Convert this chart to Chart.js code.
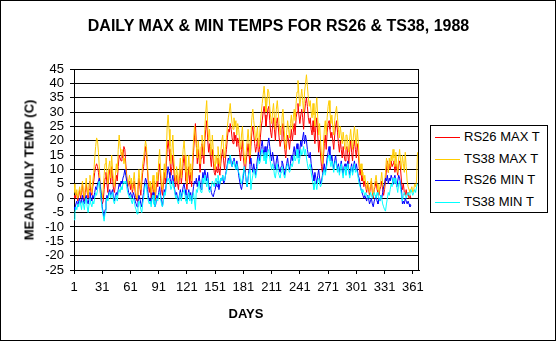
<!DOCTYPE html>
<html>
<head>
<meta charset="utf-8">
<script src="https://cdn.jsdelivr.net/npm/chart.js@4.4.1/dist/chart.umd.min.js"></script>
<style>
  html, body { margin: 0; padding: 0; background: #fff; }
  #wrap { position: relative; width: 557px; height: 343px; font-family: "Liberation Sans", Arial, sans-serif; color: #000; }
  #frame { position: absolute; left: 0; top: 0; width: 556px; height: 341px; border: 1px solid #000; box-sizing: border-box; pointer-events: none; }
  canvas { position: absolute; left: 0; top: 0; }
  .title { position: absolute; left: 0; width: 557px; top: 17px; text-align: center; font-weight: bold; font-size: 16px; }
  .xtitle { position: absolute; left: 196px; width: 100px; top: 306px; text-align: center; font-weight: bold; font-size: 13px; }
  .ytitle { position: absolute; left: 29px; top: 170px; transform: translate(-50%, -50%) rotate(-90deg); white-space: nowrap; font-weight: bold; font-size: 13px; }
  #legend { position: absolute; left: 430px; top: 125px; width: 118px; height: 88px; border: 1px solid #000; box-sizing: border-box; background: #fff; }
  .item { position: absolute; left: 4px; height: 16px; font-size: 13px; line-height: 16px; white-space: nowrap; }
  .item svg { position: absolute; left: 0; top: 0; }
  .item span { position: absolute; left: 29px; top: 0; }
</style>
</head>
<body>
<div id="wrap">
  <canvas id="chart" width="557" height="343"></canvas>
  <div class="title">DAILY MAX &amp; MIN TEMPS FOR RS26 &amp; TS38, 1988</div>
  <div class="ytitle">MEAN DAILY TEMP (C)</div>
  <div class="xtitle">DAYS</div>
  <div id="legend"></div>
  <div id="frame"></div>
</div>
<script>
// day-of-year categories (1988 is a leap year)
const days = Array.from({ length: 366 }, (_, i) => i + 1);
const xTicks = [1, 31, 61, 91, 121, 151, 181, 211, 241, 271, 301, 331, 361];

const seriesNames = ["RS26 MAX T", "TS38 MAX T", "RS26 MIN T", "TS38 MIN T"];
const seriesColors = ["#ff0000", "#ffcc00", "#0000ff", "#00ffff"];

// RS26 record stops a few days before year end
const rs26Max = [
  1, 0, 2, 1, -1, 1, 3, 0, 2, 5,
  1, -1, 2, 5, 2, 0, 3, 6, 2, 1,
  4, 6, 9, 11, 12, 11, 9, 6, 2, -1,
  -2, -1, 3, 7, 9, 5, 2, 8, 10, 5,
  11, 7, 3, 2, 5, 8, 6, 11, 15, 14,
  13, 16, 14, 18, 17, 12, 8, 4, 5, 6,
  3, 5, 2, 4, 6, 2, 0, -1, 3, 7,
  4, 1, 5, 9, 11, 14, 18, 16, 10, 5,
  2, 4, 0, 3, 6, 1, -1, 2, 6, 4,
  9, 12, 7, 3, 1, 5, 9, 5, 11, 17,
  20, 17, 13, 8, 11, 15, 10, 6, 4, 8,
  5, 3, 7, 10, 5, 8, 12, 15, 11, 6,
  3, 7, 11, 5, 9, 4, 10, 16, 21, 26,
  19, 12, 17, 13, 9, 14, 19, 16, 12, 20,
  24, 27, 21, 16, 19, 14, 11, 17, 13, 9,
  8, 11, 9, 14, 10, 8, 12, 15, 17, 13,
  10, 14, 17, 21, 24, 23, 26, 24, 21, 19,
  23, 20, 22, 18, 21, 19, 16, 13, 17, 20,
  14, 11, 9, 13, 16, 19, 15, 12, 18, 23,
  25, 22, 19, 16, 18, 21, 15, 17, 21, 25,
  27, 30, 32, 29, 25, 28, 31, 32, 27, 23,
  21, 25, 28, 24, 20, 26, 28, 25, 21, 18,
  20, 24, 26, 21, 17, 14, 19, 22, 20, 17,
  21, 24, 20, 23, 26, 22, 28, 30, 33, 29,
  26, 29, 31, 28, 24, 30, 33, 35, 32, 28,
  26, 28, 24, 22, 27, 23, 19, 25, 28, 22,
  16, 20, 15, 11, 9, 14, 19, 22, 17, 23,
  26, 27, 24, 21, 23, 20, 17, 22, 25, 27,
  23, 19, 16, 20, 17, 14, 18, 15, 13, 17,
  18, 15, 12, 17, 20, 16, 13, 18, 20, 17,
  14, 19, 16, 11, 8, 10, 6, 7, 4, 6,
  4, 2, 5, 3, 1, 4, 6, 2, 0, 3,
  4, 6, 3, 2, 1, 3, 4, 6, 3, 1,
  3, 6, 10, 13, 9, 12, 10, 13, 11, 12,
  13, 9, 12, 10, 8, 12, 13, 10, 6, 3,
  5, 2, 1, 3, 1, 2, 0, 1, 0
];

const ts38Max = [
  5, 2, 1, 3, 0, 2, 4, 1, 3, 6,
  2, 0, 4, 7, 3, 1, 5, 8, 4, 2,
  6, 9, 14, 18, 21, 20, 16, 10, 5, 2,
  0, 3, 8, 12, 14, 9, 5, 11, 13, 7,
  15, 10, 6, 4, 8, 12, 9, 17, 22, 18,
  15, 17, 16, 12, 14, 10, 7, 4, 6, 8,
  5, 7, 3, 6, 9, 4, 1, 0, 5, 10,
  6, 3, 8, 12, 14, 17, 20, 18, 12, 7,
  4, 6, 2, 5, 8, 3, 0, 4, 9, 6,
  13, 17, 10, 5, 3, 8, 12, 7, 15, 25,
  29, 24, 18, 12, 16, 22, 14, 9, 6, 11,
  8, 5, 10, 14, 7, 12, 17, 20, 15, 9,
  5, 10, 15, 8, 12, 6, 14, 20, 25, 22,
  18, 14, 20, 16, 12, 18, 22, 19, 15, 24,
  30, 34, 26, 20, 24, 18, 15, 22, 17, 12,
  10, 15, 12, 18, 14, 11, 16, 20, 22, 17,
  14, 18, 21, 25, 28, 30, 33, 29, 26, 24,
  28, 25, 27, 22, 26, 24, 20, 17, 22, 25,
  18, 14, 12, 16, 20, 24, 19, 15, 22, 28,
  31, 27, 24, 20, 22, 25, 18, 21, 26, 30,
  33, 36, 39, 35, 30, 33, 38, 37, 32, 28,
  26, 30, 33, 28, 24, 31, 34, 30, 26, 22,
  25, 28, 31, 26, 20, 17, 23, 27, 24, 21,
  26, 29, 24, 28, 31, 27, 33, 37, 41, 36,
  32, 35, 38, 34, 30, 37, 40, 43, 39, 35,
  32, 34, 30, 28, 33, 29, 25, 31, 35, 28,
  22, 26, 20, 15, 12, 18, 24, 27, 22, 28,
  32, 34, 30, 26, 29, 25, 22, 27, 30, 32,
  28, 24, 21, 25, 22, 19, 23, 20, 17, 22,
  22, 19, 16, 21, 24, 20, 17, 22, 25, 21,
  18, 24, 20, 14, 10, 12, 8, 9, 6, 8,
  5, 3, 6, 4, 2, 5, 7, 3, 1, 4,
  6, 8, 5, 3, 2, 4, 6, 9, 5, 3,
  5, 9, 14, 12, 9, 14, 11, 15, 13, 17,
  14, 11, 16, 12, 9, 14, 17, 13, 10, 15,
  12, 9, 16, 11, 6, 4, 3, 2, 3, 4,
  2, 3, 5, 4, 6, 16
];

const rs26Min = [
  -3, -4, -2, -1, -3, -1, 0, -2, -1, 1,
  -1, -2, 0, 1, -1, -2, 0, 2, 0, -1,
  1, 0, 2, 4, 3, 5, 6, 7, 4, 1,
  -3, -5, -7, -4, -1, 1, 0, 2, 3, 1,
  2, 3, 0, -1, 1, 2, 1, 3, 5, 4,
  6, 5, 7, 8, 10, 8, 6, 4, 2, 1,
  2, 1, 0, 2, 1, -1, -2, -3, -1, 1,
  0, -2, -3, 0, 2, 5, 7, 6, 3, 1,
  -1, 0, -2, 1, 2, -1, -3, -2, 1, 0,
  2, 4, 1, -1, -3, 0, 3, 2, 5, 8,
  11, 9, 7, 5, 6, 8, 5, 3, 1, 2,
  0, -1, 1, 3, 0, 2, 4, 5, 3, 1,
  -1, 1, 3, 0, 2, -1, 1, 4, 6, 5,
  7, 4, 6, 8, 5, 3, 6, 9, 7, 10,
  8, 6, 9, 5, 3, 4, 2, 1, 0.5, 2,
  3, 5, 4, 6, 3, 5, 7, 6, 8, 5,
  6, 8, 10, 12, 14, 13, 15, 12, 11, 13,
  14, 12, 10, 13, 11, 8, 6, 4, 3, 5,
  8, 11, 9, 6, 4, 7, 10, 12, 14, 11,
  9, 12, 10, 8, 11, 14, 16, 13, 15, 18,
  20, 17, 15, 18, 14, 16, 19, 21, 18, 15,
  13, 16, 14, 11, 10, 13, 15, 12, 10, 9,
  11, 13, 12, 10, 8, 10, 12, 14, 11, 10,
  12, 15, 13, 16, 18, 15, 17, 19, 16, 14,
  17, 20, 18, 21, 23, 19, 22, 20, 17, 15,
  14, 16, 12, 10, 8, 6, 9, 7, 5, 8,
  10, 7, 5, 6, 8, 10, 12, 9, 11, 14,
  16, 18, 15, 13, 15, 12, 10, 13, 15, 12,
  10, 12, 9, 11, 13, 10, 8, 11, 12, 9,
  11, 13, 10, 8, 10, 12, 9, 11, 13, 10,
  12, 10, 8, 7, 5, 3, 2, 1, 0, 1,
  0, -1, 1, 0, -2, -1, 0, -2, -3, -1,
  0, 1, -1, -2, 0, -1, 1, 0, 2, 4,
  5, 7, 6, 8, 5, 7, 6, 8, 7, 5,
  7, 8, 6, 4, 6, 8, 7, 5, 3, -2,
  -1, -2, 0, -1, -2, -1, -2, -3, -2.5
];

const ts38Min = [
  -7.5, -5, -3, -4, -2, -3, -1, -2, -4, -1,
  -2, -4, -1, 0, -3, -5, -2, 0, -2, -3,
  -1, -2, 0, 2, 1, 3, 5, 6, 2, -1,
  -4, -6, -8, -5, -2, 0, -1, 1, 2, 0,
  1, 2, -1, -2, 0, 1, -1, 2, 3, 2,
  4, 3, 5, 6, 5, 6, 4, 2, 1, 0,
  1, -1, -2, 0, -1, -3, -4, -5.5, -3, -1,
  -2, -4, -5, -2, 0, 3, 5, 4, 1, -1,
  -2, -1, -3, 0, 1, -2, -3, -1, 0, -1,
  1, 2, 0, -2, -3, -1, 2, 1, 4, 6,
  7, 6, 5, 3, 4, 6, 4, 2, 0, 1,
  -1, -2, 0, 2, -1, 1, 2, 3, 1, -1,
  -2, 0, 2, -1, 1, -2, 0, 2, -1, -4,
  3, 2, 4, 6, 3, 2, 5, 7, 5, 8,
  6, 4, 7, 3, 2, 3, 4, 6, 5, 4,
  6, 7, 5, 8, 6, 5, 7, 6, 8, 7,
  6, 8, 9, 11, 13, 12, 15, 13, 11, 12,
  13, 11, 10, 12, 10, 9, 8, 6, 5, 7,
  9, 11, 8, 6, 4, 7, 9, 10, 3, 6,
  8, 10, 9, 7, 9, 11, 14, 12, 13, 16,
  17, 15, 13, 16, 12, 14, 16, 17, 14, 12,
  10, 12, 11, 8, 7, 10, 12, 9, 8, 7,
  9, 11, 10, 8, 7, 9, 11, 12, 10, 9,
  10, 12, 11, 13, 15, 13, 14, 17, 14, 12,
  14, 17, 15, 16, 18, 15, 17, 14, 12, 10,
  11, 12, 9, 7, 5, 3, 6, 5, 3, 6,
  7, 5, 4, 5, 7, 9, 10, 8, 10, 12,
  14, 15, 13, 11, 13, 11, 9, 12, 13, 11,
  9, 11, 8, 10, 12, 9, 7, 10, 11, 8,
  10, 12, 9, 7, 9, 11, 8, 10, 12, 9,
  10, 9, 7, 5, 4, 3, 2, 3, 2, 1,
  2, 1, 0, 1, 0, 2, 1, 0, 1, 2,
  1, 0, 2, 1, 0, -1, 1, 0, -2, -3,
  -4, -4.5, -2, 0, 2, 1, 3, 5, 4, 7,
  6, 5, 7, 4, 2, 5, 6, 3, 1, -1,
  1, 2, 1, 0, 1, 2, 1, 2, 3, 2,
  1, 2, 3, 2, 4, 5
];

const seriesValues = [rs26Max, ts38Max, rs26Min, ts38Min];

const legend = document.getElementById("legend");
seriesNames.forEach((name, i) => {
  const row = document.createElement("div");
  row.className = "item";
  row.style.top = (3 + i * 21.7) + "px";
  row.innerHTML =
    '<svg width="26" height="16"><line x1="0" y1="8.5" x2="25" y2="8.5" stroke="' +
    seriesColors[i] + '" stroke-width="1"/></svg><span>' + name + '</span>';
  legend.appendChild(row);
});

const frameRight = {
  id: "frameRight",
  afterDraw(chart) {
    const { ctx, chartArea } = chart;
    ctx.save();
    ctx.strokeStyle = "#000";
    ctx.lineWidth = 1;
    ctx.beginPath();
    ctx.moveTo(Math.round(chartArea.right) - 0.5, chartArea.top);
    ctx.lineTo(Math.round(chartArea.right) - 0.5, chartArea.bottom);
    ctx.stroke();
    ctx.restore();
  }
};

const tickFont = { family: "'Liberation Sans', Arial, sans-serif", size: 13 };

new Chart(document.getElementById("chart"), {
  type: "line",
  data: {
    datasets: seriesValues.map((vals, i) => ({
      label: seriesNames[i],
      data: vals.map((v, j) => ({ x: days[j], y: v })),
      borderColor: seriesColors[i],
      borderWidth: 1,
      pointRadius: 0,
      tension: 0,
      fill: false,
      order: 3 - i
    }))
  },
  options: {
    responsive: false,
    animation: false,
    devicePixelRatio: 1,
    layout: { padding: { top: 69, right: 138, bottom: 0, left: 0 } },
    plugins: {
      legend: { display: false },
      tooltip: { enabled: false }
    },
    scales: {
      x: {
        type: "linear",
        min: 1,
        max: 367.6,
        afterFit: s => { s.height = 73; },
        afterBuildTicks: s => { s.ticks = xTicks.map(v => ({ value: v })); },
        grid: { drawOnChartArea: false, color: "#000", tickLength: 4 },
        border: { color: "#000" },
        ticks: { color: "#000", font: tickFont, padding: 6, maxRotation: 0, autoSkip: false }
      },
      y: {
        min: -25,
        max: 45,
        afterFit: s => { s.width = 74; },
        grid: { color: "#000", tickLength: 4 },
        border: { color: "#000" },
        ticks: { color: "#000", font: tickFont, stepSize: 5, padding: 6, autoSkip: false }
      }
    }
  },
  plugins: [frameRight]
});
</script>
</body>
</html>
